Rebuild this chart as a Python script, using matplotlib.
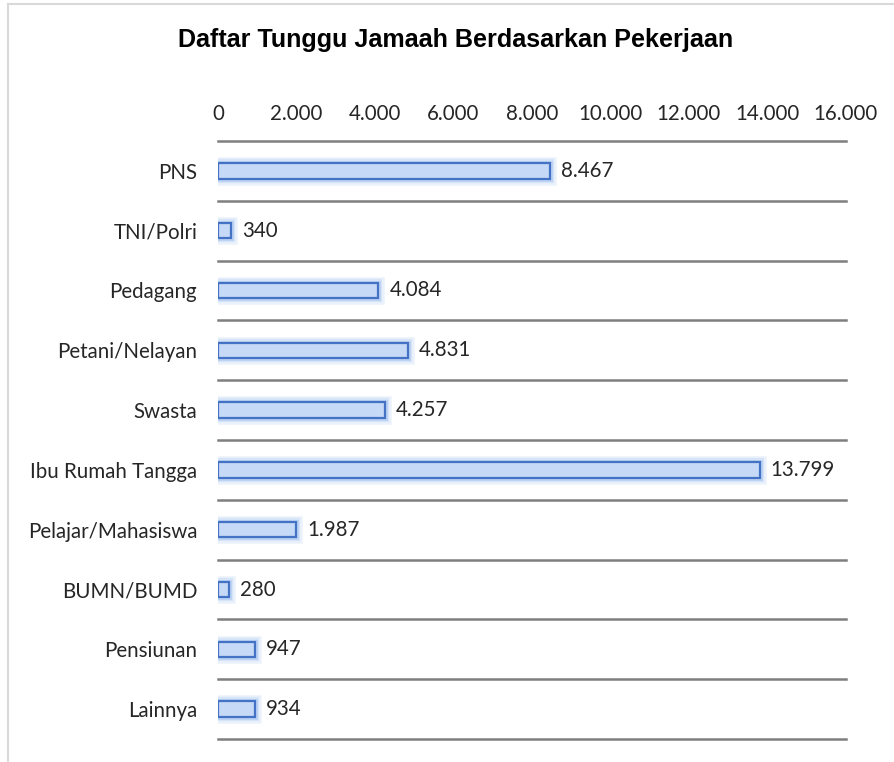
import matplotlib
matplotlib.use("Agg")
import matplotlib.pyplot as plt
from matplotlib import font_manager
import matplotlib.patheffects as pe
from matplotlib.lines import Line2D
from matplotlib.ticker import FuncFormatter

categories = ["PNS", "TNI/Polri", "Pedagang", "Petani/Nelayan", "Swasta",
              "Ibu Rumah Tangga", "Pelajar/Mahasiswa", "BUMN/BUMD", "Pensiunan", "Lainnya"]
values = [8467, 340, 4084, 4831, 4257, 13799, 1987, 280, 947, 934]
xticks = [0, 2000, 4000, 6000, 8000, 10000, 12000, 14000, 16000]
title = "Daftar Tunggu Jamaah Berdasarkan Pekerjaan"

names = {f.name for f in font_manager.fontManager.ttflist}
body_font = "Lato" if "Lato" in names else "DejaVu Sans"
title_font = "Liberation Sans"
FS = 14.8

def fmt(v):
    return f"{int(v):,}".replace(",", ".")

fig = plt.figure(figsize=(8.95, 7.62), dpi=100)
ax = fig.add_axes([218/895, 1-739/762, (846-218)/895, (739-141)/762])

n = len(categories)
y = list(range(n))
glow = [pe.Stroke(linewidth=9, foreground="#c9dcf7", alpha=0.35),
        pe.Stroke(linewidth=6, foreground="#bcd3f5", alpha=0.45),
        pe.Stroke(linewidth=3.5, foreground="#a9c6f2", alpha=0.6),
        pe.Normal()]
bars = ax.barh(y, values, height=0.26, color="#c6d9f6", edgecolor="#4472c4",
               linewidth=1.6, zorder=3)
for b in bars:
    b.set_path_effects(glow)

for yi, v in zip(y, values):
    ax.annotate(fmt(v), (v, yi), xytext=(8, 0), textcoords="offset points",
                va="center", ha="left", fontsize=FS, family=body_font, color="#262626")

ax.set_ylim(n - 0.5, -0.5)
ax.set_xlim(0, 16000)
for k in range(n + 1):
    ax.axhline(k - 0.5, color="#7f7f7f", linewidth=1.8, zorder=1, clip_on=False)

ax.set_yticks(y)
ax.set_yticklabels(categories, fontsize=FS, family=body_font, color="#262626")
ax.set_xticks(xticks)
ax.xaxis.set_major_formatter(FuncFormatter(lambda v, p: fmt(v)))
ax.xaxis.tick_top()
ax.tick_params(axis="x", length=0, pad=12, labelsize=FS, labelcolor="#262626")
ax.tick_params(axis="y", length=0, pad=15)
for lab in ax.get_xticklabels():
    lab.set_family(body_font)
for s in ax.spines.values():
    s.set_visible(False)

fig.text(455.5/895, 1-40/762, title, ha="center", va="center", fontsize=18.1,
         fontweight="bold", family=title_font, color="black")

# chart border (light gray)
fig.add_artist(Line2D([8/895, 8/895], [0, 1-4/762], transform=fig.transFigure,
                      color="#d9d9d9", linewidth=1.5))
fig.add_artist(Line2D([8/895, 1], [1-4/762, 1-4/762], transform=fig.transFigure,
                      color="#d9d9d9", linewidth=1.5))

fig.savefig("out.png", dpi=100)
